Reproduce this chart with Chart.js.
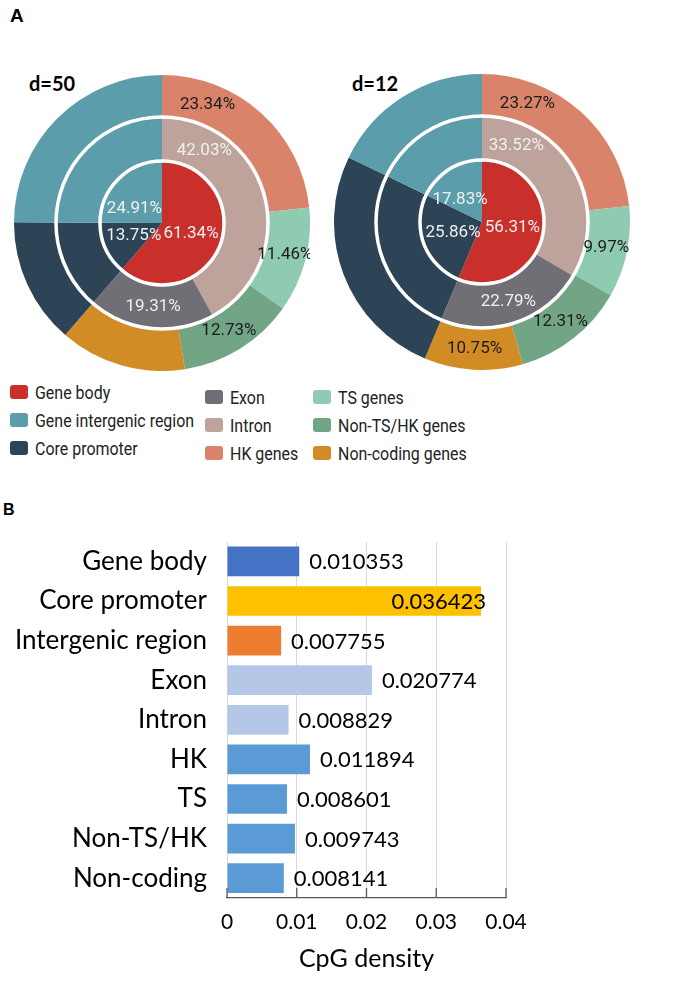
<!DOCTYPE html>
<html>
<head>
<meta charset="utf-8">
<script src="https://cdn.jsdelivr.net/npm/chart.js@4.4.1/dist/chart.umd.min.js"></script>
<style>
    body { margin: 0; background: #fff; width: 692px; height: 985px; position: relative; overflow: hidden; font-family: Roboto, sans-serif; }
    .panel { position: absolute; font: bold 19px "Liberation Sans", Arial, sans-serif; color: #000; line-height: 1; }
    .dlab { position: absolute; font: bold 20px Lato, sans-serif; color: #000; line-height: 1; }
    #pie1 { position: absolute; left: 14px; top: 75px; }
    #pie2 { position: absolute; left: 334px; top: 74px; }
    #legend { position: absolute; left: 10px; top: 378px; }
    .col { position: absolute; top: 0; }
    .item { display: flex; align-items: center; height: 28px; font-size: 19px; color: #222; white-space: nowrap; }
    .item span.t { display: inline-block; transform: scaleX(0.84); transform-origin: left center; }
    .sw { width: 18px; height: 14px; border-radius: 3px; margin-right: 7px; flex: none; }
    #bars { position: absolute; left: 0; top: 514px; }
</style>
</head>
<body>
<div class="panel" style="left:10px;top:6px">A</div>
<div class="panel" style="left:3px;top:502px;font-size:16px">B</div>
<div class="dlab" style="left:29px;top:73px">d=50</div>
<div class="dlab" style="left:352px;top:73px">d=12</div>
<canvas id="pie1" width="296" height="296"></canvas>
<canvas id="pie2" width="296" height="296"></canvas>
<div id="legend"></div>
<canvas id="bars" width="692" height="464"></canvas>

<script>
// --- Panel A: anillos (de dentro hacia fuera) ---
const innerCats = ['Gene body', 'Core promoter', 'Gene intergenic region'];
const middleCats = ['Intron', 'Exon', 'Core promoter', 'Gene intergenic region'];
const outerCats = ['HK genes', 'TS genes', 'Non-TS/HK genes', 'Non-coding genes', 'Core promoter', 'Gene intergenic region'];

const d50Inner = [61.34, 13.75, 24.91];
const d50Middle = [42.03, 19.31, 13.75, 24.91];
const d50Outer = [23.34, 11.46, 12.73, 13.81, 13.75, 24.91];

const d12Inner = [56.31, 25.86, 17.83];
const d12Middle = [33.52, 22.79, 25.86, 17.83];
const d12Outer = [23.27, 9.97, 12.31, 10.75, 25.86, 17.83];

// que porcentajes aparecen escritos en cada anillo
const d50Shown = { inner: [1, 1, 1], middle: [1, 1, 0, 0], outer: [1, 1, 1, 0, 0, 0] };
const d12Shown = { inner: [1, 1, 1], middle: [1, 1, 0, 0], outer: [1, 1, 1, 1, 0, 0] };

const legendCols = [
    ['Gene body', 'Gene intergenic region', 'Core promoter'],
    ['Exon', 'Intron', 'HK genes'],
    ['TS genes', 'Non-TS/HK genes', 'Non-coding genes']
];

// --- Panel B: densidad CpG ---
const barCats = ['Gene body', 'Core promoter', 'Intergenic region', 'Exon', 'Intron', 'HK', 'TS', 'Non-TS/HK', 'Non-coding'];
const barValues = [0.010353, 0.036423, 0.007755, 0.020774, 0.008829, 0.011894, 0.008601, 0.009743, 0.008141];
const xTicks = [0, 0.01, 0.02, 0.03, 0.04];

const colors = {
    'Gene body': '#c9302c',
    'Gene intergenic region': '#5b9dab',
    'Core promoter': '#2d4456',
    'Exon': '#6f6f75',
    'Intron': '#bda39b',
    'HK genes': '#d9836a',
    'TS genes': '#8ecbb0',
    'Non-TS/HK genes': '#72a486',
    'Non-coding genes': '#d18c26'
};
const barColors = ['#4472c4', '#ffc000', '#ed7d31', '#b4c7e7', '#b4c7e7', '#5b9bd5', '#5b9bd5', '#5b9bd5', '#5b9bd5'];

// posicion del texto dentro de cada sector (fraccion del arco)
const labelFrac = {
    outer: [0.25, 0.5, 0.5, 0.5, 0.5, 0.5],
    middle: [0.2, 0.5, 0.5, 0.5],
    inner: [0.5, 0.5, 0.3]
};

const ringPlugin = {
    id: 'rings',
    afterDatasetsDraw(chart, args, opts) {
        const ctx = chart.ctx;
        const metas = [0, 1, 2].map(i => chart.getDatasetMeta(i));
        const cx = metas[0].data[0].x, cy = metas[0].data[0].y;
        ctx.save();
        // circulos blancos entre anillos
        ctx.strokeStyle = '#fff';
        ctx.lineWidth = 3.5;
        [metas[0].data[0].innerRadius, metas[1].data[0].innerRadius].forEach(r => {
            ctx.beginPath();
            ctx.arc(cx, cy, r, 0, Math.PI * 2);
            ctx.stroke();
        });
        ctx.font = '17px Roboto';
        ctx.textAlign = 'center';
        ctx.textBaseline = 'middle';
        const rings = ['outer', 'middle', 'inner'];
        metas.forEach((meta, i) => {
            const ring = rings[i];
            const values = chart.data.datasets[i].data;
            meta.data.forEach((arc, j) => {
                if (!opts.shown[ring][j]) return;
                const a = arc.startAngle + labelFrac[ring][j] * (arc.endAngle - arc.startAngle);
                const r = arc.innerRadius === 0 ? arc.outerRadius * 0.5 : (arc.innerRadius + arc.outerRadius) / 2;
                ctx.fillStyle = ring === 'outer' ? '#1c1c1c' : '#f0f0f0';
                ctx.fillText(values[j].toFixed(2) + '%', cx + r * Math.cos(a), cy + r * Math.sin(a));
            });
        });
        ctx.restore();
    }
};

function makeDonut(id, inner, middle, outer, shown) {
    return new Chart(document.getElementById(id), {
        type: 'doughnut',
        data: {
            datasets: [
                { data: outer, backgroundColor: outerCats.map(c => colors[c]), borderWidth: 0, weight: 42 },
                { data: middle, backgroundColor: middleCats.map(c => colors[c]), borderWidth: 0, weight: 44 },
                { data: inner, backgroundColor: innerCats.map(c => colors[c]), borderWidth: 0, weight: 62 }
            ]
        },
        options: {
            responsive: false,
            animation: false,
            cutout: 0,
            rotation: 0,
            hoverOffset: 0,
            layout: { padding: 0 },
            events: [],
            plugins: { legend: { display: false }, tooltip: { enabled: false }, rings: { shown: shown } }
        },
        plugins: [ringPlugin]
    });
}

function renderLegend() {
    const box = document.getElementById('legend');
    const lefts = [0, 195, 303];
    const tops = [0, 5, 5];
    box.innerHTML = legendCols.map((col, i) => `
        <div class="col" style="left:${lefts[i]}px;top:${tops[i]}px">
            ${col.map(name => `<div class="item"><span class="sw" style="background:${colors[name]}"></span><span class="t">${name}</span></div>`).join('')}
        </div>
    `).join('');
}

const barLabelPlugin = {
    id: 'barLabels',
    afterDatasetsDraw(chart) {
        const ctx = chart.ctx;
        const area = chart.chartArea;
        const meta = chart.getDatasetMeta(0);
        ctx.save();
        ctx.font = '22px Lato';
        ctx.fillStyle = '#000';
        ctx.textBaseline = 'middle';
        meta.data.forEach((bar, i) => {
            const txt = barValues[i].toFixed(6);
            const w = ctx.measureText(txt).width;
            if (bar.x + 10 + w > area.right) {
                ctx.textAlign = 'right';
                ctx.fillText(txt, bar.x + 5, bar.y + 1);
            } else {
                ctx.textAlign = 'left';
                ctx.fillText(txt, bar.x + 10, bar.y + 1);
            }
        });
        // marcas cortas hacia dentro sobre el eje
        const xs = chart.scales.x;
        ctx.strokeStyle = '#595959';
        ctx.lineWidth = 1.3;
        xTicks.forEach(v => {
            const px = xs.getPixelForValue(v);
            ctx.beginPath();
            ctx.moveTo(px, area.bottom);
            ctx.lineTo(px, area.bottom - 10);
            ctx.stroke();
        });
        ctx.restore();
    }
};

function renderBars() {
    new Chart(document.getElementById('bars'), {
        type: 'bar',
        data: {
            labels: barCats,
            datasets: [{
                data: barValues,
                backgroundColor: barColors,
                barPercentage: 0.75,
                categoryPercentage: 1
            }]
        },
        options: {
            indexAxis: 'y',
            responsive: false,
            animation: false,
            events: [],
            layout: { padding: { top: 0, right: 186, left: 0, bottom: 0 } },
            plugins: { legend: { display: false }, tooltip: { enabled: false } },
            scales: {
                x: {
                    min: 0,
                    max: 0.04,
                    afterBuildTicks: s => { s.ticks = xTicks.map(v => ({ value: v })); },
                    afterFit: s => { s.height = 80; },
                    ticks: {
                        font: { family: 'Lato', size: 21 },
                        color: '#000',
                        padding: 12,
                        callback: v => v === 0 ? '0' : v.toFixed(2)
                    },
                    grid: { color: '#d9d9d9', drawTicks: false },
                    border: { color: '#595959', width: 1.3 },
                    title: { display: true, text: 'CpG density', font: { family: 'Lato', size: 25 }, color: '#000' }
                },
                y: {
                    afterFit: s => { s.width = 227; },
                    grid: { display: false },
                    border: { display: false },
                    ticks: { font: { family: 'Lato', size: 26 }, color: '#000', padding: 12 }
                }
            }
        },
        plugins: [barLabelPlugin]
    });
}

window.onload = () => {
    makeDonut('pie1', d50Inner, d50Middle, d50Outer, d50Shown);
    makeDonut('pie2', d12Inner, d12Middle, d12Outer, d12Shown);
    renderLegend();
    renderBars();
};
</script>
</body>
</html>
